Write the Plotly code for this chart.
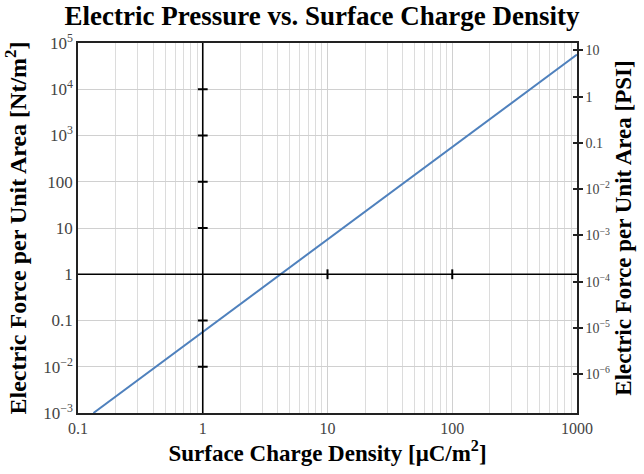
import math
import plotly.graph_objects as go

# Data
charge_density = [0.133, 1, 4.2, 10, 100, 1000]          # uC/m^2
pressure_nt = [0.001, 0.0565, 1.0, 5.65, 565, 56500]      # Nt/m^2
PSI_PER_NT = 1.450377e-4

left_tickvals = [1e-3, 1e-2, 0.1, 1, 10, 100, 1e3, 1e4, 1e5]
left_ticktext = ["10<sup>−3</sup>", "10<sup>−2</sup>", "0.1", "1", "10", "100",
                 "10<sup>3</sup>", "10<sup>4</sup>", "10<sup>5</sup>"]
right_tickvals = [1e-6, 1e-5, 1e-4, 1e-3, 1e-2, 0.1, 1, 10]
right_ticktext = ["10<sup>−6</sup>", "10<sup>−5</sup>", "10<sup>−4</sup>", "10<sup>−3</sup>",
                  "10<sup>−2</sup>", "0.1", "1", "10"]
x_tickvals = [0.1, 1, 10, 100, 1000]
x_ticktext = ["0.1", "1", "10", "100", "1000"]
x_minor = [m * d for d in [0.1, 1, 10, 100] for m in range(2, 10)]
cross_y_ticks = [1e-2, 0.1, 10, 100, 1e3, 1e4]
cross_x_ticks = [10, 100]

SERIF = "Liberation Serif, Times New Roman, serif"
psi_range = [math.log10(1e-3 * PSI_PER_NT), math.log10(1e5 * PSI_PER_NT)]

fig = go.Figure()
fig.add_trace(go.Scatter(x=charge_density, y=pressure_nt, mode="lines",
                         line=dict(color="#4f81bd", width=2), showlegend=False,
                         hoverinfo="skip"))
# invisible traces on PSI axes
for ax in ["y2", "y3"]:
    fig.add_trace(go.Scatter(x=charge_density, y=[p * PSI_PER_NT for p in pressure_nt],
                             mode="lines", line=dict(width=0), opacity=0, yaxis=ax,
                             showlegend=False, hoverinfo="skip"))
# tick marks on the crossing lines
fig.add_trace(go.Scatter(x=[1] * len(cross_y_ticks), y=cross_y_ticks, mode="markers",
                         marker=dict(symbol="line-ew-open", size=7, color="black",
                                     line=dict(color="black", width=2)),
                         showlegend=False, hoverinfo="skip"))
fig.add_trace(go.Scatter(x=cross_x_ticks, y=[1] * len(cross_x_ticks), mode="markers",
                         marker=dict(symbol="line-ns-open", size=7, color="black",
                                     line=dict(color="black", width=2)),
                         showlegend=False, hoverinfo="skip"))

fig.add_vline(x=1, line=dict(color="black", width=1.6))
fig.add_hline(y=1, line=dict(color="black", width=1.6))

fig.update_layout(
    width=644, height=474,
    margin=dict(l=78, r=64, t=43, b=61),
    paper_bgcolor="white", plot_bgcolor="white",
    font=dict(family=SERIF, color="#333"),
    title=dict(text="<b>Electric Pressure vs. Surface Charge Density</b>",
               x=0.5, xanchor="center", y=0.968, yanchor="middle",
               font=dict(family=SERIF, size=27, color="black")),
    xaxis=dict(type="log", range=[-1, 3], tickvals=x_tickvals, ticktext=x_ticktext,
               tickfont=dict(size=16, color="#444"), showgrid=True,
               gridcolor="#d0d0d0", gridwidth=1,
               minor=dict(tickvals=x_minor, showgrid=True, gridcolor="#dcdcdc", gridwidth=1),
               showline=True, linecolor="#222", linewidth=1.5, mirror=True,
               ticks="", zeroline=False,
               title=dict(text="<b>Surface Charge Density [μC/m<sup>2</sup>]</b>",
                          font=dict(family=SERIF, size=23, color="black"), standoff=8)),
    yaxis=dict(type="log", range=[-3, 5], tickvals=left_tickvals, ticktext=left_ticktext,
               tickfont=dict(size=17, color="#444"), showgrid=True,
               gridcolor="#d0d0d0", gridwidth=1,
               showline=True, linecolor="#222", linewidth=1.5, mirror=True,
               ticks="", zeroline=False,
               title=dict(text="<b>Electric Force per Unit Area [Nt/m<sup>2</sup>]</b>",
                          font=dict(family=SERIF, size=24, color="black"), standoff=10)),
    yaxis2=dict(type="log", overlaying="y", side="right", range=psi_range,
                tickvals=right_tickvals, ticktext=right_ticktext,
                tickfont=dict(size=14, color="#444"), showgrid=False,
                ticks="outside", ticklen=4, tickwidth=1.5, tickcolor="#222",
                showline=True, linecolor="#222", linewidth=1.5, zeroline=False,
                title=dict(text="<b>Electric Force per Unit Area [PSI]</b>",
                           font=dict(family=SERIF, size=23, color="black"), standoff=6)),
    yaxis3=dict(type="log", overlaying="y", side="right", range=psi_range,
                tickvals=right_tickvals, showticklabels=False, showgrid=False,
                ticks="inside", ticklen=4, tickwidth=1.5, tickcolor="#222",
                showline=False, zeroline=False),
)

fig.write_html("out.html", config={"displayModeBar": False},
               post_script="document.body.style.margin='0';")
